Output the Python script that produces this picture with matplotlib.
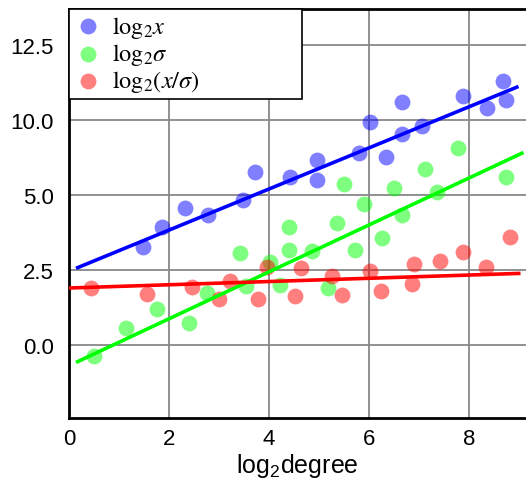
import numpy as np
import matplotlib
matplotlib.use("Agg")
import matplotlib.pyplot as plt

plt.rcParams['font.family'] = ['Liberation Sans', 'DejaVu Sans']
plt.rcParams['mathtext.fontset'] = 'custom'
plt.rcParams['mathtext.rm'] = 'Liberation Sans'

# values
x_blue = [1.48, 1.85, 2.31, 2.77, 3.47, 3.71, 4.41, 4.95, 4.95, 5.79,
          6.02, 6.34, 6.65, 6.65, 7.05, 7.87, 8.35, 8.67, 8.74]
y_blue = [3.28, 3.94, 4.56, 4.33, 4.83, 5.77, 5.61, 6.17, 5.50, 6.39,
          7.42, 6.26, 7.03, 8.09, 7.31, 8.31, 7.89, 8.81, 8.18]

x_green = [0.49, 1.13, 1.75, 2.39, 2.75, 3.41, 3.54, 4.02, 4.22, 4.40,
           4.40, 4.85, 5.17, 5.36, 5.49, 5.72, 5.89, 6.25, 6.49, 6.65,
           7.11, 7.35, 7.78, 8.74]
y_green = [-0.36, 0.56, 1.20, 0.72, 1.73, 3.06, 1.98, 2.76, 2.00, 3.94,
           3.17, 3.14, 1.89, 4.06, 5.37, 3.18, 4.70, 3.56, 5.22, 4.33,
           5.87, 5.09, 6.56, 5.61]

x_red = [0.44, 1.55, 2.45, 2.99, 3.22, 3.77, 3.95, 4.52, 4.63, 5.25,
         5.45, 6.02, 6.23, 6.86, 6.89, 7.42, 7.87, 8.34, 8.81]
y_red = [1.90, 1.70, 1.92, 1.53, 2.14, 1.53, 2.59, 1.64, 2.57, 2.31,
         1.66, 2.46, 1.81, 2.03, 2.70, 2.81, 3.09, 2.59, 3.59]

# fitted lines: (x start, x end, slope, intercept)
fit_blue = (0.14, 8.99, 0.685, 2.46)
fit_green = (0.14, 9.09, 0.782, -0.69)
fit_red = (0.0, 9.03, 0.054, 1.90)

yticks = [0, 2.5, 5, 7.5, 10]
ytick_labels = ['0.0', '2.5', '5.0', '10.0', '12.5']
xticks = [0, 2, 4, 6, 8]

fig = plt.figure(figsize=(5.26, 4.81), dpi=100)
ax = fig.add_axes([69/526, 1 - 419/481, 1 - 69/526, (419 - 10)/481])

ms = 130
h1 = ax.scatter(x_blue, y_blue, s=ms, color='blue', alpha=0.5, lw=0, zorder=3)
h2 = ax.scatter(x_green, y_green, s=ms, color='lime', alpha=0.5, lw=0, zorder=3)
h3 = ax.scatter(x_red, y_red, s=ms, color='red', alpha=0.5, lw=0, zorder=3)

for (x0, x1, k, b), c in [(fit_blue, 'blue'), (fit_green, 'lime'), (fit_red, 'red')]:
    xx = np.array([x0, x1])
    ax.plot(xx, k * xx + b, color=c, lw=2.6, zorder=4, solid_capstyle='butt')

ax.set_xlim(0, (526 - 69) / 50)
ax.set_ylim((346 - 419) / 30, (346 - 10) / 30)
ax.set_xticks(xticks)
ax.set_yticks(yticks)
ax.set_yticklabels(ytick_labels)
ax.tick_params(length=0, labelsize=16)
ax.tick_params(axis='y', pad=11)
ax.tick_params(axis='x', pad=7)
ax.grid(True, color='#888888', lw=1.3)
ax.set_axisbelow(True)
for s in ['left', 'bottom', 'top']:
    ax.spines[s].set_linewidth(2)
    ax.spines[s].set_color('black')
ax.spines['right'].set_visible(False)

ax.set_xlabel(r'log$_2$degree', fontsize=18, labelpad=2)

labels = [r'$\mathrm{log}_2x$', r'$\mathrm{log}_2\sigma$', r'$\mathrm{log}_2(x/\sigma)$']
leg = ax.legend([h1, h2, h3], labels, loc='upper left',
                bbox_to_anchor=(0, 0, 233/457, 1), mode='expand',
                borderaxespad=0, fancybox=False, framealpha=1, edgecolor='black',
                handletextpad=0.35, borderpad=0.2, labelspacing=0.05,
                prop={'family': 'Liberation Serif', 'size': 17.5}, handlelength=1.2)
leg.get_frame().set_linewidth(1.2)
for t in leg.get_texts():
    t.set_math_fontfamily('stix')
leg.set_zorder(5)

fig.savefig('out.png', dpi=100)
